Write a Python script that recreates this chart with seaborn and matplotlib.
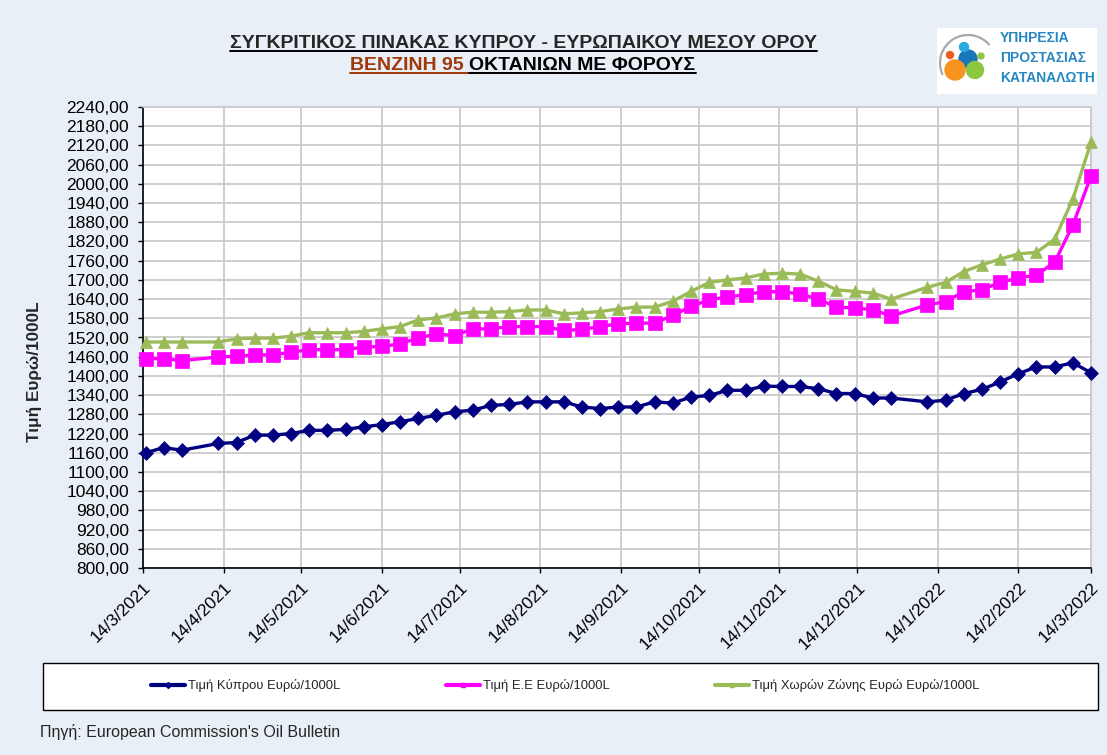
import matplotlib
matplotlib.use("Agg")
import matplotlib.pyplot as plt
import matplotlib.ticker as mticker
from matplotlib.patches import Rectangle, Circle, Arc
from matplotlib.lines import Line2D
import seaborn as sns
import pandas as pd
import numpy as np

# ---------------- data ----------------
dates = [
    "2021-03-15", "2021-03-22", "2021-03-29", "2021-04-12", "2021-04-19", "2021-04-26",
    "2021-05-03", "2021-05-10", "2021-05-17", "2021-05-24", "2021-05-31", "2021-06-07",
    "2021-06-14", "2021-06-21", "2021-06-28", "2021-07-05", "2021-07-12", "2021-07-19",
    "2021-07-26", "2021-08-02", "2021-08-09", "2021-08-16", "2021-08-23", "2021-08-30",
    "2021-09-06", "2021-09-13", "2021-09-20", "2021-09-27", "2021-10-04", "2021-10-11",
    "2021-10-18", "2021-10-25", "2021-11-01", "2021-11-08", "2021-11-15", "2021-11-22",
    "2021-11-29", "2021-12-06", "2021-12-13", "2021-12-20", "2021-12-27", "2022-01-10",
    "2022-01-17", "2022-01-24", "2022-01-31", "2022-02-07", "2022-02-14", "2022-02-21",
    "2022-02-28", "2022-03-07", "2022-03-14",
]
cyprus = [
    1160, 1176, 1168, 1189, 1192, 1215, 1215, 1220, 1230, 1230, 1233, 1241, 1248, 1257,
    1267, 1277, 1288, 1293, 1308, 1311, 1319, 1319, 1319, 1303, 1298, 1303, 1303, 1319,
    1315, 1334, 1339, 1355, 1355, 1368, 1367, 1367, 1360, 1345, 1345, 1331, 1331, 1319,
    1324, 1345, 1358, 1381, 1407, 1428, 1428, 1441, 1410,
]
eu = [
    1454, 1454, 1448, 1459, 1461, 1466, 1466, 1474, 1482, 1482, 1482, 1490, 1492, 1500,
    1519, 1531, 1526, 1547, 1547, 1554, 1554, 1554, 1542, 1545, 1554, 1563, 1565, 1565,
    1589, 1617, 1638, 1646, 1654, 1663, 1663, 1656, 1640, 1615, 1612, 1607, 1587, 1622,
    1632, 1663, 1669, 1692, 1706, 1715, 1755, 1871, 2024,
]
euro_zone = [
    1506, 1506, 1506, 1506, 1516, 1518, 1518, 1524, 1535, 1535, 1535, 1539, 1547, 1554,
    1575, 1581, 1594, 1599, 1599, 1601, 1606, 1606, 1594, 1597, 1601, 1609, 1615, 1615,
    1633, 1664, 1692, 1700, 1706, 1718, 1721, 1718, 1696, 1669, 1664, 1659, 1640, 1677,
    1692, 1726, 1747, 1765, 1781, 1786, 1827, 1952, 2130,
]
series_names = ["Τιμή Κύπρου Ευρώ/1000L", "Τιμή Ε.Ε Ευρώ/1000L",
                "Τιμή Χωρών Ζώνης Ευρώ Ευρώ/1000L"]
tick_dates = ["2021-03-14", "2021-04-14", "2021-05-14", "2021-06-14", "2021-07-14",
              "2021-08-14", "2021-09-14", "2021-10-14", "2021-11-14", "2021-12-14",
              "2022-01-14", "2022-02-14", "2022-03-14"]
tick_labels = ["14/3/2021", "14/4/2021", "14/5/2021", "14/6/2021", "14/7/2021",
               "14/8/2021", "14/9/2021", "14/10/2021", "14/11/2021", "14/12/2021",
               "14/1/2022", "14/2/2022", "14/3/2022"]
y_ticks = list(range(800, 2241, 60))

# ---------------- style ----------------
sns.set_theme(style="white")
plt.rcParams['font.family'] = ['Liberation Sans', 'DejaVu Sans']

W, H = 1107, 755
BG = '#E9EFF7'
fig = plt.figure(figsize=(W / 100, H / 100), dpi=100, facecolor=BG)

def fx(px):
    return px / W

def fy(py):
    return 1 - py / H

ax = fig.add_axes([fx(143), fy(568), fx(1091) - fx(143), fy(107) - fy(568)])
ax.set_facecolor('white')

d = pd.to_datetime(dates)
colors = ['#000080', '#FF00FF', '#9BBB59']
markers = ['D', 's', '^']
msizes = [7, 10, 8]
for vals, c, m, ms in zip([cyprus, eu, euro_zone], colors, markers, msizes):
    sns.lineplot(x=d, y=vals, ax=ax, color=c, marker=m, markersize=ms,
                 markeredgecolor=c, markeredgewidth=0.5, linewidth=2.4,
                 clip_on=False, legend=False, zorder=3)

ax.set_xlim(pd.Timestamp("2021-03-14"), pd.Timestamp("2022-03-14"))
ax.set_ylim(800, 2240)
ax.set_yticks(y_ticks)
ax.yaxis.set_major_formatter(mticker.FuncFormatter(lambda v, p: f"{v:.2f}".replace('.', ',')))
ax.set_xticks(pd.to_datetime(tick_dates))
ax.set_xticklabels(tick_labels, rotation=45, ha='right', rotation_mode='anchor')
ax.tick_params(axis='both', direction='out', length=3.6, width=1, color='black',
               labelsize=12.5, labelcolor='black', left=True, bottom=True)
ax.tick_params(axis='x', pad=5)
ax.tick_params(axis='y', pad=6.5)
ax.grid(True, color='#CACACA', linewidth=1.3)
ax.set_axisbelow(True)
for s in ['left', 'bottom']:
    ax.spines[s].set_color('black')
    ax.spines[s].set_linewidth(1.2)
for s in ['top', 'right']:
    ax.spines[s].set_color('#CACACA')
    ax.spines[s].set_linewidth(1.3)
ax.set_xlabel('')
ax.set_ylabel('')

# y label
fig.text(fx(35), fy(372), 'Τιμή Ευρώ/1000L', rotation=90, ha='center', va='center',
         fontsize=12.3, weight='bold')

# ---------------- title with underlines ----------------
renderer = fig.canvas.get_renderer()
TFS = 14
t1 = fig.text(fx(523), fy(48), 'ΣΥΓΚΡΙΤΙΚΟΣ ΠΙΝΑΚΑΣ ΚΥΠΡΟΥ - ΕΥΡΩΠΑΙΚΟΥ ΜΕΣΟΥ ΟΡΟΥ',
              ha='center', va='baseline', fontsize=TFS, weight='bold')
bb = t1.get_window_extent(renderer)
fig.add_artist(Line2D([bb.x0 / W, bb.x1 / W], [fy(50.5), fy(50.5)], transform=fig.transFigure,
                      color='black', lw=1.4))

brown = '#A0380A'
ta = fig.text(0, fy(70), 'ΒΕΝΖΙΝΗ 95 ', ha='left', va='baseline', fontsize=TFS,
              weight='bold', color=brown)
tb = fig.text(0, fy(70), 'ΟΚΤΑΝΙΩΝ ΜΕ ΦΟΡΟΥΣ', ha='left', va='baseline', fontsize=TFS,
              weight='bold', color='black')
wa = ta.get_window_extent(renderer).width
wb = tb.get_window_extent(renderer).width
x0 = 523 - (wa + wb) / 2
ta.set_x(x0 / W)
tb.set_x((x0 + wa) / W)
fig.add_artist(Line2D([x0 / W, (x0 + wa) / W], [fy(72.5), fy(72.5)], transform=fig.transFigure,
                      color=brown, lw=1.4))
fig.add_artist(Line2D([(x0 + wa) / W, (x0 + wa + wb) / W], [fy(72.5), fy(72.5)],
                      transform=fig.transFigure, color='black', lw=1.4))

# ---------------- logo ----------------
lax = fig.add_axes([fx(937), fy(94), fx(1097) - fx(937), fy(28) - fy(94)])
lax.set_xlim(0, 160)
lax.set_ylim(0, 66)
lax.set_facecolor('white')
lax.set_xticks([])
lax.set_yticks([])
for s in lax.spines.values():
    s.set_visible(False)
lax.add_patch(Arc((31, 31), 56, 56, theta1=40, theta2=205, color='#A8A8A8', lw=1.6))
lax.add_patch(Circle((31, 35), 9, color='#1B75BB'))
lax.add_patch(Circle((18, 24), 10, color='#F7941D'))
lax.add_patch(Circle((38, 24), 8.5, color='#8DC63F'))
lax.add_patch(Circle((27, 47), 4.5, color='#29ABE2'))
lax.add_patch(Circle((13, 39), 3.5, color='#F15A24'))
lax.add_patch(Circle((44, 38), 3.0, color='#8DC63F'))
logo_font = ['Liberation Sans Narrow', 'Liberation Sans', 'DejaVu Sans']
for yy, txt in zip([56, 36, 16], ['ΥΠΗΡΕΣΙΑ', 'ΠΡΟΣΤΑΣΙΑΣ', 'ΚΑΤΑΝΑΛΩΤΗ']):
    lax.text(63, yy, txt, ha='left', va='center', fontsize=10, weight='bold',
             color='#2787C2', family=logo_font)

# ---------------- legend ----------------
fig.add_artist(Rectangle((fx(43), fy(710)), fx(1098) - fx(43), fy(663) - fy(710),
                         transform=fig.transFigure, facecolor='white', edgecolor='black',
                         lw=1.0, zorder=0))
leg_x = [151, 446, 715]
for name, c, m, lx in zip(series_names, colors, markers, leg_x):
    h = Line2D([], [], color=c, lw=3, marker=m, markersize=3, markeredgecolor=c)
    fig.legend(handles=[h], labels=[name], loc='center left',
               bbox_to_anchor=(fx(lx), fy(686)), frameon=False,
               handlelength=2.6, handletextpad=0.2, borderpad=0, borderaxespad=0,
               prop={'family': ['Liberation Sans'], 'size': 9.4})

fig.text(fx(40), fy(732), "Πηγή: European Commission's Oil Bulletin", ha='left', va='center',
         fontsize=11.5)

fig.savefig('out.png', dpi=100, facecolor=BG)
